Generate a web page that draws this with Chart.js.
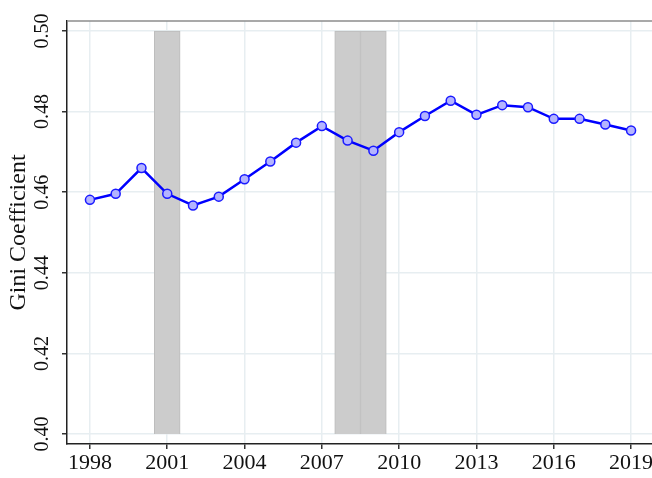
<!DOCTYPE html>
<html>
<head>
<meta charset="utf-8">
<script src="https://cdn.jsdelivr.net/npm/chart.js@4"></script>
<style>
  html, body { margin: 0; padding: 0; background: #fff; overflow: hidden; }
  #wrap { width: 660px; height: 478px; }
</style>
</head>
<body>
<div id="wrap"><canvas id="chart"></canvas></div>
<script>
// Gini coefficient by year, with recession years shaded
var years = [1998, 1999, 2000, 2001, 2002, 2003, 2004, 2005, 2006, 2007, 2008,
             2009, 2010, 2011, 2012, 2013, 2014, 2015, 2016, 2017, 2018, 2019];
var gini = [0.4581, 0.4596, 0.4660, 0.4596, 0.4567, 0.4589, 0.4632, 0.4676, 0.4723, 0.4764, 0.4728,
            0.4703, 0.4749, 0.4789, 0.4827, 0.4792, 0.4816, 0.4811, 0.4782, 0.4782, 0.4768, 0.4753];
var recessionYears = [2001, 2008, 2009];
var recessionRange = [0.40, 0.50];
var xTicks = [1998, 2001, 2004, 2007, 2010, 2013, 2016, 2019];
var yTicks = [0.40, 0.42, 0.44, 0.46, 0.48, 0.50];

var serif = 'Liberation Serif';

var topLine = {
  id: 'topLine',
  beforeDatasetsDraw: function(chart) {
    var a = chart.chartArea, c = chart.ctx;
    c.save();
    c.strokeStyle = '#8c8c8c';
    c.lineWidth = 1.5;
    c.beginPath();
    c.moveTo(a.left, a.top);
    c.lineTo(a.right, a.top);
    c.stroke();
    c.restore();
  }
};

new Chart(document.getElementById('chart'), {
  type: 'line',
  data: {
    datasets: [{
      type: 'line',
      data: years.map(function(y, i) { return {x: y, y: gini[i]}; }),
      borderColor: '#0000ff',
      borderWidth: 2.5,
      pointRadius: 4.5,
      pointBackgroundColor: '#b4b4ff',
      pointBorderColor: '#1a1aff',
      pointBorderWidth: 1.5,
      tension: 0,
      order: 1
    }, {
      type: 'bar',
      data: recessionYears.map(function(y) { return {x: y, y: recessionRange}; }),
      backgroundColor: '#cccccc',
      borderColor: '#bcbcbc',
      borderWidth: 1,
      barPercentage: 1,
      categoryPercentage: 1,
      order: 2
    }]
  },
  options: {
    responsive: true,
    maintainAspectRatio: false,
    animation: false,
    layout: { padding: { top: 21, left: 0, right: 6, bottom: 0 } },
    plugins: { legend: { display: false }, tooltip: { enabled: false } },
    scales: {
      x: {
        type: 'linear',
        offset: false,
        min: 1997.11,
        max: 2019.89,
        afterBuildTicks: function(s) { s.ticks = xTicks.map(function(v) { return {value: v}; }); },
        afterFit: function(s) { s.height = 34; s.paddingLeft = 0; s.paddingRight = 0; s.paddingTop = 0; s.paddingBottom = 0; },
        grid: { offset: false, color: '#e7eef1', lineWidth: 1.5, tickColor: '#333', tickLength: 5 },
        border: { color: '#222', width: 1.5 },
        ticks: {
          color: '#111',
          font: { family: serif, size: 22 },
          padding: 1,
          maxRotation: 0,
          callback: function(v) { return String(v); }
        }
      },
      y: {
        min: 0.39752,
        max: 0.50248,
        afterBuildTicks: function(s) { s.ticks = yTicks.map(function(v) { return {value: v}; }); },
        afterFit: function(s) { s.width = 67; s.paddingLeft = 0; s.paddingRight = 0; s.paddingTop = 0; s.paddingBottom = 0; },
        grid: { color: '#e7eef1', lineWidth: 1.5, tickColor: '#333', tickLength: 5 },
        border: { color: '#222', width: 1.5 },
        ticks: {
          color: '#111',
          font: { family: serif, size: 20 },
          minRotation: 90,
          maxRotation: 90,
          crossAlign: 'center',
          padding: 2,
          callback: function(v) { return v.toFixed(2); }
        },
        title: {
          display: true,
          text: 'Gini Coefficient',
          color: '#111',
          font: { family: serif, size: 24 },
          padding: { top: 4, bottom: 0 }
        }
      }
    }
  },
  plugins: [topLine]
});
</script>
</body>
</html>
